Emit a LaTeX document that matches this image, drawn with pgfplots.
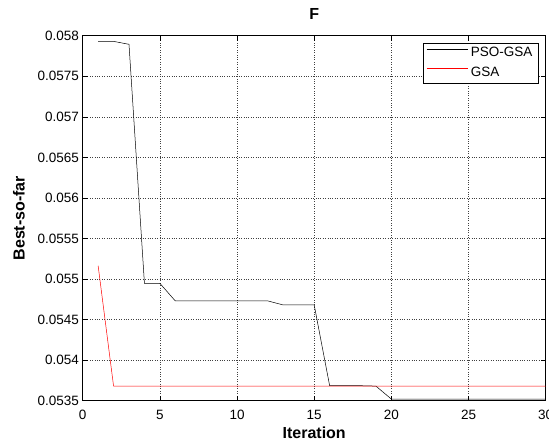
\documentclass[border=0pt]{standalone}
\usepackage{fontspec}
\setmainfont{Liberation Sans}
\usepackage{pgfplots}
\pgfplotsset{compat=1.18}

\pgfplotstableread{
it  val
1   0.05793
2   0.05793
3   0.057894
4   0.054947
5   0.054947
6   0.05473
7   0.05473
8   0.05473
9   0.05473
10  0.05473
11  0.05473
12  0.05473
13  0.05468
14  0.05468
15  0.05468
16  0.053685
17  0.053685
18  0.053685
19  0.05368
20  0.05352
21  0.05352
22  0.05352
23  0.05352
24  0.05352
25  0.05352
26  0.05352
27  0.05352
28  0.05352
29  0.05352
30  0.05352
}\psogsa

\pgfplotstableread{
it  val
1   0.055164
2   0.05368
3   0.05368
4   0.05368
5   0.05368
6   0.05368
7   0.05368
8   0.05368
9   0.05368
10  0.05368
11  0.05368
12  0.05368
13  0.05368
14  0.05368
15  0.05368
16  0.05368
17  0.05368
18  0.05368
19  0.05368
20  0.05368
21  0.05368
22  0.05368
23  0.05368
24  0.05368
25  0.05368
26  0.05368
27  0.05368
28  0.05368
29  0.05368
30  0.05368
}\gsa

\begin{document}
\begin{tikzpicture}
% fix the page to the reference's frame (right edge cuts the last tick label)
\useasboundingbox (-82.7pt,-41.3pt) rectangle (466.3pt,400.7pt);
\begin{axis}[
    at={(0pt,0pt)}, anchor=south west,
    scale only axis,
    width=463pt, height=365pt,
    xmin=0, xmax=30, ymin=0.0535, ymax=0.058,
    xtick={0,5,...,30},
    ytick={0.0535,0.054,0.0545,0.055,0.0555,0.056,0.0565,0.057,0.0575,0.058},
    yticklabels={0.0535,0.054,0.0545,0.055,0.0555,0.056,0.0565,0.057,0.0575,0.058},
    scaled y ticks=false,
    /pgf/number format/assume math mode=true,
    tick align=inside, tick pos=both,
    major tick length=5pt,
    tick style={black, line width=0.5pt},
    grid=major,
    major grid style={dotted, black!75, line width=0.45pt},
    axis line style={black, line width=0.8pt},
    xticklabel style={font=\fontsize{13.5}{16}\selectfont, anchor=base, inner sep=0pt, yshift=-19.2pt},
    yticklabel style={font=\fontsize{13.5}{16}\selectfont, anchor=east, inner sep=0pt, xshift=-3.5pt},
    title={F},
    title style={font=\fontsize{16}{19}\selectfont\bfseries, at={(axis description cs:0.5,1)}, anchor=base, yshift=10.5pt},
    xlabel={Iteration},
    xlabel style={font=\fontsize{16}{19}\selectfont\bfseries, at={(axis description cs:0.5,-0.0885)}, anchor=center},
    ylabel={Best-so-far},
    ylabel style={font=\fontsize{16}{19}\selectfont\bfseries, at={(axis description cs:-0.1376,0.5)}, anchor=center, rotate=0},
    legend cell align=left,
    legend image code/.code={\draw[#1] (0pt,4.5pt) -- (41pt,4.5pt);},
    legend style={at={(0.985,0.979)}, anchor=north east, draw=black, line width=0.6pt,
        fill=white, inner xsep=3pt, inner ysep=0pt, row sep=0pt,
        font=\fontsize{13.5}{16}\selectfont,
        nodes={inner xsep=3pt, inner ysep=3.3pt, text height=10pt, text depth=3pt}},
]
\addplot[black, line width=0.5pt] table[x=it, y=val] {\psogsa};
\addlegendentry{PSO-GSA}
\addplot[red, line width=0.5pt] table[x=it, y=val] {\gsa};
\addlegendentry{GSA}
\end{axis}
\end{tikzpicture}
\end{document}
